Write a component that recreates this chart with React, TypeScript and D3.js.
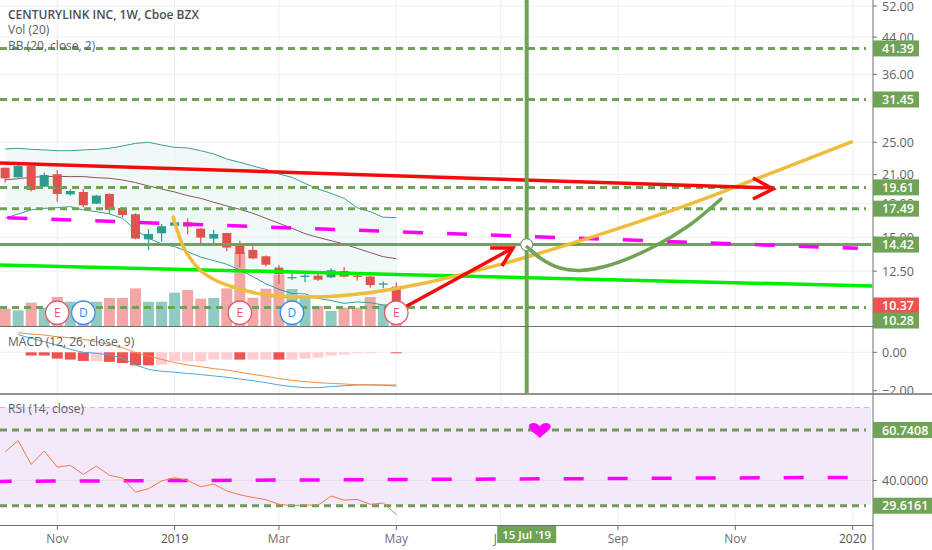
import React from "react";
import * as d3 from "d3";

// ---- Time ticks: week index counted from the first visible weekly bar
const monthTickWeeks = [4, 13, 21, 30, 38, 47, 56, 65];
const monthTickLabels = ["Nov", "2019", "Mar", "May", "Jul", "Sep", "Nov", "2020"];
const crosshairWeek = 40;
const crosshairLabel = "15 Jul '19";

// ---- Candles
const opens = [21.8,20.7,22,19.69,21.04,18.89,19.13,17.97,18.93,17.55,16.97,14.83,15.32,15.96,16.25,15.71,14.89,15.34,14.34,14.01,13.54,12.74,12.03,12.11,12.2,12.09,12.51,12.2,12.14,11.63,11.5];
const closes = [20.59,22,19.34,20.96,18.93,19.23,17.81,18.76,17.37,16.91,14.89,15.26,15.91,16.25,15.88,14.97,15.26,14.19,13.71,13.39,12.94,12.31,12.11,12.2,11.94,12.56,12.14,12.16,11.6,11.7,10.37];
const highs = [21.8,22.12,22.12,21.23,21.53,19.41,19.41,18.83,18.99,17.62,17.06,15.65,16.11,16.7,16.61,15.76,15.6,15.37,14.72,14.31,13.59,12.92,12.4,12.36,12.4,12.69,12.76,12.36,12.18,11.82,11.76];
const lows = [20.12,20.7,19.17,19.62,18.16,18.76,17.62,17.94,17,16.7,14.83,14.01,14.64,15.88,15.24,14.46,14.52,13.93,12.76,13.32,12.81,11.67,11.92,11.78,11.86,12.05,12.09,11.88,11.44,11.4,10.05];
const volumes = [55,50,73,58,90,76,58,76,87,87,116,76,76,103,111,85,87,116,223,88,115,158,114,93,63,48,58,58,90,68,58];

// ---- Bollinger bands
const bbUpper = [24.11,24.19,24.06,23.98,23.89,23.89,23.98,24.06,24.19,24.5,24.85,24.99,24.63,24.32,24.24,23.89,23.47,22.84,22.44,22,21.61,21.07,20.7,20.04,19.44,18.99,18.49,17.58,17.21,16.7,16.67];
const bbMiddle = [20.41,20.55,20.7,20.78,20.81,20.78,20.78,20.66,20.59,20.41,20.12,19.76,19.44,19.13,18.76,18.49,18.1,17.75,17.43,17.06,16.61,16.17,15.74,15.29,14.99,14.72,14.46,14.13,13.81,13.51,13.37];
const bbLower = [16.61,17,17.37,17.52,17.58,17.68,17.37,17.21,17,16.61,15.6,14.92,14.46,14.26,13.88,13.47,13.23,12.97,12.58,12.14,11.67,11.34,11.09,11.06,10.8,10.67,10.51,10.59,10.55,10.42,10.38];

// ---- MACD (lines start at week 1, histogram at week 2)
const macdLine = [0.92,0.73,0.55,0.38,0.15,0,-0.05,-0.14,-0.31,-0.66,-0.89,-0.99,-1.04,-1.1,-1.16,-1.23,-1.3,-1.39,-1.48,-1.58,-1.7,-1.79,-1.84,-1.84,-1.79,-1.74,-1.7,-1.7,-1.72,-1.76];
const macdSignal = [1.02,0.95,0.9,0.81,0.76,0.68,0.55,0.42,0.24,-0.02,-0.19,-0.37,-0.54,-0.66,-0.75,-0.85,-0.92,-1.04,-1.15,-1.25,-1.37,-1.46,-1.53,-1.58,-1.62,-1.65,-1.69,-1.69,-1.7,-1.7];
const macdHist = [-0.17,-0.17,-0.33,-0.38,-0.45,-0.45,-0.5,-0.56,-0.68,-0.68,-0.64,-0.47,-0.47,-0.47,-0.38,-0.38,-0.38,-0.38,-0.38,-0.38,-0.38,-0.33,-0.28,-0.17,-0.12,-0.05,-0.05,0,-0.05];
const macdHistStrong = [1,1,1,1,1,0,1,1,1,1,0,0,0,0,0,0,1,0,0,1,0,0,0,0,0,0,0,0,1];

// ---- RSI
const rsiValues = [51.7,56.4,46.6,52.1,45.5,46.2,42.5,45.9,42.1,41,35.2,36.6,39.8,41.1,40,37.4,38.5,35.7,34.1,33,32.1,30.2,29.6,29.9,29.8,33.6,31.9,32.2,30.2,30.7,26];

// ---- Ticks and drawn levels
const priceTicks = [52, 44, 36, 25, 21, 18, 15, 12.5];
const dashedLevels = [41.39, 31.45, 19.61, 17.49, 10.28];
const priceLabels = ["41.39", "31.45", "19.61", "17.49", "14.42"];
const solidLevel = 14.42;
const rsiLevels = [60.7408, 29.6161];
const earnings = [4, 18, 30];
const dividends = [6, 22];

// ---- Drawn annotations, [week, price]
const redTrend: [number, number][] = [[-0.39, 22.36], [58.9, 19.55]];
const redChevron: [number, number][] = [[57.35, 20.62], [58.9, 19.44], [57.35, 18.42]];
const redArrowShaft: [number, number][] = [[30.67, 10.31], [38.95, 14.16]];
const redArrowHead: [number, number][] = [[37.2, 14.16], [38.95, 14.16], [38.1, 12.85]];
const limeTrend: [number, number][] = [[-0.39, 12.92], [66.5, 11.54]];
const magentaTrend: [number, number][] = [[0.17, 16.66], [65.4, 14.13]];
const magentaRsi: [number, number][] = [[-1.03, 39.6], [66.4, 41.3]];
const yellowCurve: [number, number][] = [[12.88,16.72],[13.8,14],[14.95,12.58],[16.1,11.92],[17.48,11.48],[20.09,10.99],[23.92,10.88],[27.75,11.11],[31.82,11.66],[34.88,12.25],[40.02,13.49],[51.2,17.36],[56.2,19.76],[64.9,25.03]];
const greenCurve: [number, number][] = [[39.95,14.31],[41.02,13.42],[42.56,12.71],[44.1,12.55],[46.4,12.92],[49.7,14.23],[52.5,16.02],[54.9,18.42]];
const heartPoint: [number, number] = [41, 60.7];
const circlePoint: [number, number] = [40, 14.42];

const FONT = "'Open Sans', 'Liberation Sans', sans-serif";
const GREEN = "#6fa356";
const GRID = "#eceff4";
const TXT = "#5d6066";
const AXIS_X = 873;

const x = d3.scaleLinear().domain([0, 66]).range([5.1, 5.1 + 13.04 * 66]);
const yP = d3.scaleLog().domain([52, 10.28]).range([6, 307.5]);
const yVol = d3.scaleLinear().domain([0, 223]).range([327, 327 - 74.3]);
const yM = d3.scaleLinear().domain([0, -2]).range([352.3, 390.7]);
const yR = d3.scaleLinear().domain([60.7408, 29.6161]).range([430, 505.7]);

const mainLine = d3.line<[number, number]>().x((d) => x(d[0])).y((d) => yP(d[1]));
const macdPath = d3.line<[number, number]>().x((d) => x(d[0])).y((d) => yM(d[1]));
const rsiLine = d3.line<[number, number]>().x((d) => x(d[0])).y((d) => yR(d[1]));
const smooth = d3.line<[number, number]>().x((d) => x(d[0])).y((d) => yP(d[1])).curve(d3.curveCatmullRom.alpha(0.5));
const idx = (a: number[], start = 0): [number, number][] => a.map((v, i) => [i + start, v]);
const bandArea = d3.area<number>().x((_, i) => x(i)).y0((_, i) => yP(bbLower[i])).y1((d) => yP(d));

function PriceTag({ y, text, fill, w = 46 }: { y: number; text: string; fill: string; w?: number }) {
  return (
    <g>
      <rect x={AXIS_X} y={y - 8} width={w} height={16} fill={fill} />
      <text x={AXIS_X + 9} y={y + 4.5} fill="#fff" fontSize={12.5} fontWeight={600} fontFamily={FONT}>{text}</text>
    </g>
  );
}

function Marker({ w, label, color }: { w: number; label: string; color: string }) {
  return (
    <g>
      <circle cx={x(w)} cy={312.7} r={11.7} fill="#fff" stroke={color} strokeWidth={1.3} />
      <text x={x(w)} y={317} textAnchor="middle" fontSize={12} fill={color} fontFamily={FONT}>{label}</text>
    </g>
  );
}

export default function App() {
  const hx = x(heartPoint[0]);
  const hy = yR(heartPoint[1]);
  const heart = `M${hx},${hy + 8} C${hx - 5},${hy + 3} ${hx - 11},${hy + 0} ${hx - 11},${hy - 3.5} C${hx - 11},${hy - 8} ${hx - 3},${hy - 8.5} ${hx},${hy - 3.5} C${hx + 3},${hy - 8.5} ${hx + 11},${hy - 8} ${hx + 11},${hy - 3.5} C${hx + 11},${hy + 0} ${hx + 5},${hy + 3} ${hx},${hy + 8} Z`;

  return (
    <svg width={932} height={550} style={{ position: "absolute", left: 0, top: 0, background: "#fff" }} fontFamily={FONT}>
      <defs>
        <clipPath id="main"><rect x={0} y={0} width={AXIS_X} height={327} /></clipPath>
        <clipPath id="macd"><rect x={0} y={328} width={AXIS_X} height={65} /></clipPath>
        <clipPath id="rsi"><rect x={0} y={394} width={AXIS_X - 2} height={132} /></clipPath>
        <clipPath id="axisMacd"><rect x={AXIS_X} y={328} width={60} height={65} /></clipPath>
      </defs>

      {/* grid */}
      {monthTickWeeks.map((w) => (
        <line key={w} x1={x(w)} x2={x(w)} y1={0} y2={526} stroke={GRID} strokeWidth={1} />
      ))}
      {priceTicks.map((p) => (
        <line key={p} x1={0} x2={AXIS_X} y1={yP(p)} y2={yP(p)} stroke={GRID} />
      ))}
      <line x1={0} x2={AXIS_X} y1={yM(0)} y2={yM(0)} stroke={GRID} />

      {/* RSI background */}
      <rect x={0} y={yR(70)} width={AXIS_X - 2} height={yR(30) - yR(70)} fill="#f3e6fb" opacity={0.92} />
      <line x1={0} x2={AXIS_X - 2} y1={yR(70)} y2={yR(70)} stroke="#c9b7d3" strokeDasharray="5 4" />
      <line x1={0} x2={AXIS_X - 2} y1={yR(40)} y2={yR(40)} stroke="#e6dcec" />

      {/* main pane */}
      <g clipPath="url(#main)">
        <path d={bandArea(bbUpper) ?? ""} fill="#e6f3f2" opacity={0.55} />
        {volumes.map((v, i) => (
          <rect key={i} x={x(i) - 5.5} width={11} y={yVol(v)} height={327 - yVol(v)}
            fill={closes[i] >= opens[i] ? "#8fcac3" : "#f3a6a6"} />
        ))}
        <path d={mainLine(idx(bbUpper)) ?? ""} fill="none" stroke="#3f9c95" strokeWidth={1} />
        <path d={mainLine(idx(bbLower)) ?? ""} fill="none" stroke="#3f9c95" strokeWidth={1} />
        <path d={mainLine(idx(bbMiddle)) ?? ""} fill="none" stroke="#8d5656" strokeWidth={1} />
        {opens.map((o, i) => {
          const up = closes[i] >= o;
          const c = up ? "#2a9d8f" : "#e0524f";
          const t = yP(Math.max(o, closes[i]));
          const b = yP(Math.min(o, closes[i]));
          return (
            <g key={i}>
              <line x1={x(i)} x2={x(i)} y1={yP(highs[i])} y2={yP(lows[i])} stroke={c} strokeWidth={1.2} />
              <rect x={x(i) - 4.5} width={9} y={t} height={Math.max(b - t, 1.2)} fill={c} />
            </g>
          );
        })}
        {dashedLevels.map((p) => (
          <line key={p} x1={0} x2={866} y1={yP(p)} y2={yP(p)} stroke={GREEN} strokeWidth={3} strokeDasharray="7 5" />
        ))}
        <line x1={0} x2={871} y1={yP(solidLevel)} y2={yP(solidLevel)} stroke={GREEN} strokeWidth={3} />
        <path d={mainLine(magentaTrend) ?? ""} fill="none" stroke="#f0f" strokeWidth={3.5} strokeDasharray="20 24" />
        <path d={mainLine(limeTrend) ?? ""} fill="none" stroke="#00ee00" strokeWidth={3.5} />
        <path d={smooth(yellowCurve) ?? ""} fill="none" stroke="#efbc3c" strokeWidth={3.5} strokeLinecap="round" />
        <path d={smooth(greenCurve) ?? ""} fill="none" stroke={GREEN} strokeWidth={3.5} strokeLinecap="round" />
        <path d={mainLine(redTrend) ?? ""} fill="none" stroke="#f40b0b" strokeWidth={3.5} />
        <path d={mainLine(redChevron) ?? ""} fill="none" stroke="#f40b0b" strokeWidth={3.5} />
        <path d={mainLine(redArrowShaft) ?? ""} fill="none" stroke="#f40b0b" strokeWidth={3.5} />
        <path d={mainLine(redArrowHead) ?? ""} fill="none" stroke="#f40b0b" strokeWidth={3.5} />
        {earnings.map((w) => <Marker key={w} w={w} label="E" color="#e2596b" />)}
        {dividends.map((w) => <Marker key={w} w={w} label="D" color="#2f8fe8" />)}
      </g>

      {/* vertical line */}
      <line x1={x(crosshairWeek)} x2={x(crosshairWeek)} y1={0} y2={393} stroke={GREEN} strokeWidth={4} />
      <circle cx={x(circlePoint[0])} cy={yP(circlePoint[1])} r={6} fill="#fff" stroke="#8a8f8a" strokeWidth={1.2} />
      <path d={smooth(greenCurve.slice(0, 2)) ?? ""} fill="none" stroke={GREEN} strokeWidth={3.5} />

      {/* MACD */}
      <g clipPath="url(#macd)">
        {macdHist.map((v, i) => (
          <rect key={i} x={x(i + 2) - 5.5} width={11} y={yM(0)} height={yM(v) - yM(0)}
            fill={macdHistStrong[i] ? "#ef5350" : "#ffcdd2"} />
        ))}
        <path d={macdPath(idx(macdLine, 1)) ?? ""} fill="none" stroke="#4aa8e0" strokeWidth={1} />
        <path d={macdPath(idx(macdSignal, 1)) ?? ""} fill="none" stroke="#f58c3f" strokeWidth={1} />
      </g>

      {/* RSI */}
      <g clipPath="url(#rsi)">
        {rsiLevels.map((l) => (
          <line key={l} x1={0} x2={866} y1={yR(l)} y2={yR(l)} stroke="#6f9a5a" strokeWidth={3} strokeDasharray="7 5" />
        ))}
        <path d={rsiLine(magentaRsi) ?? ""} fill="none" stroke="#f0f" strokeWidth={3.5} strokeDasharray="20 24" />
        <path d={rsiLine(idx(rsiValues)) ?? ""} fill="none" stroke="#f2794a" strokeWidth={1} />
        <path d={heart} fill="#f0f" />
      </g>

      {/* legends */}
      <text x={8} y={19} fontSize={12} fontWeight={600} fill="#4a4d52">CENTURYLINK INC, 1W, Cboe BZX</text>
      <text x={8} y={34} fontSize={12} fill={TXT}>Vol (20)</text>
      <text x={8} y={50} fontSize={12} fill={TXT}>BB (20, close, 2)</text>
      <text x={8} y={346} fontSize={12} fill={TXT}>MACD (12, 26, close, 9)</text>
      <text x={8} y={413} fontSize={12} fill={TXT}>RSI (14, close)</text>

      {/* axes */}
      <line x1={0} x2={AXIS_X} y1={326.5} y2={326.5} stroke="#6b6e73" strokeWidth={1} />
      <line x1={0} x2={932} y1={394} y2={394} stroke="#6b6e73" strokeWidth={1.4} />
      <line x1={0} x2={AXIS_X} y1={525.5} y2={525.5} stroke="#6b6e73" strokeWidth={1} />
      <line x1={AXIS_X} x2={AXIS_X} y1={0} y2={550} stroke="#6b6e73" strokeWidth={1} />

      {monthTickWeeks.map((w, i) => (
        <g key={w}>
          <line x1={x(w)} x2={x(w)} y1={526} y2={530} stroke="#6b6e73" />
          <text x={x(w)} y={543} textAnchor="middle" fontSize={12}
            fill={monthTickLabels[i].startsWith("20") ? "#4f5257" : "#6b6e73"}>{monthTickLabels[i]}</text>
        </g>
      ))}
      <rect x={x(crosshairWeek) - 29.5} y={526} width={59} height={17} fill={GREEN} />
      <text x={x(crosshairWeek)} y={539} textAnchor="middle" fontSize={11.5} fill="#fff" fontWeight={600}>{crosshairLabel}</text>

      {priceTicks.map((p) => (
        <g key={p}>
          <line x1={AXIS_X} x2={AXIS_X + 4} y1={yP(p)} y2={yP(p)} stroke="#6b6e73" />
          <text x={AXIS_X + 9} y={yP(p) + 4.5} fontSize={12.5} fill={TXT}>{p.toFixed(2)}</text>
        </g>
      ))}
      <g clipPath="url(#axisMacd)">
        {[0, -2].map((v) => (
          <g key={v}>
            <line x1={AXIS_X} x2={AXIS_X + 4} y1={yM(v)} y2={yM(v)} stroke="#6b6e73" />
            <text x={AXIS_X + 9} y={yM(v) + 4.5} fontSize={12.5} fill={TXT}>{v === 0 ? "0.00" : "\u22122.00"}</text>
          </g>
        ))}
      </g>
      <line x1={AXIS_X} x2={AXIS_X + 4} y1={yR(40)} y2={yR(40)} stroke="#6b6e73" />
      <text x={AXIS_X + 9} y={yR(40) + 4.5} fontSize={12.5} fill={TXT}>40.0000</text>

      {priceLabels.map((t) => <PriceTag key={t} y={yP(+t)} text={t} fill={GREEN} />)}
      <PriceTag y={305.5} text="10.37" fill="#ef5350" />
      <PriceTag y={320.5} text="10.28" fill={GREEN} />
      {rsiLevels.map((l) => <PriceTag key={l} y={yR(l)} text={l.toFixed(4)} fill={GREEN} w={59} />)}
    </svg>
  );
}
